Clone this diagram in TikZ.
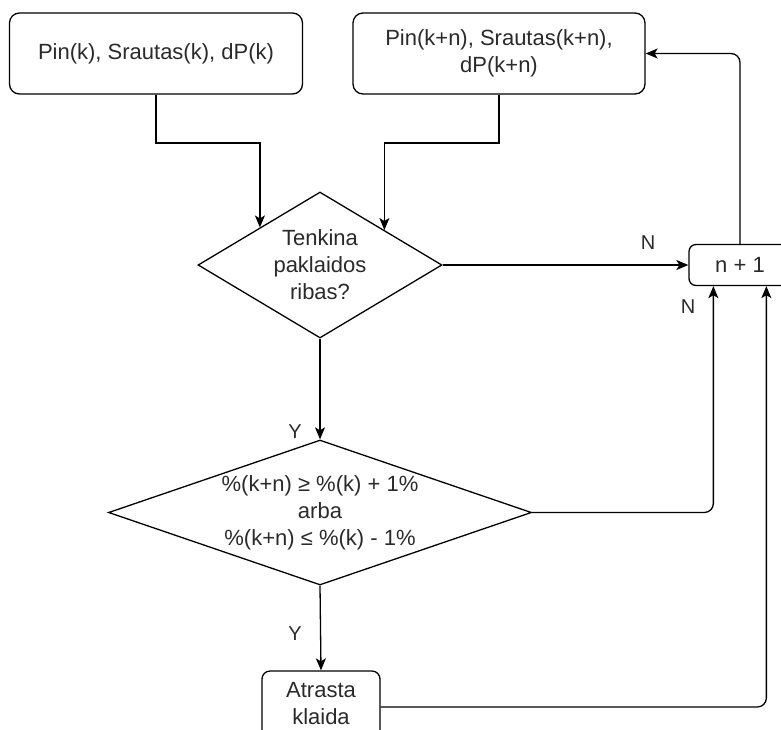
\documentclass[tikz,border=0pt]{standalone}
\usepackage{fontspec}
\setmainfont{Liberation Sans}
\usetikzlibrary{shapes.geometric,arrows.meta,calc}
\definecolor{txtc}{HTML}{2a2a2a}
\begin{document}
\begin{tikzpicture}[x=1pt,y=-1pt,
  every node/.style={text=txtc,font=\fontsize{22}{27}\selectfont,align=center},
  rbox/.style={draw,line width=1.3pt,rounded corners=10pt,inner sep=0pt},
  dia/.style={draw,diamond,line width=1.3pt,inner sep=0pt},
  lbl/.style={font=\fontsize{20}{24}\selectfont,inner sep=0pt},
  arr/.style={line width=1.3pt,-{Stealth[length=12pt,width=10pt,inset=3pt]}},
  rarr/.style={arr,rounded corners=9pt}]
\useasboundingbox (0,0) rectangle (781,729);
\node[rbox,minimum width=293pt,minimum height=81pt] (b1) at (156,53.5) {Pin(k), Srautas(k), dP(k)};
\node[rbox,minimum width=292pt,minimum height=81pt] (b2) at (499,53.5) {Pin(k+n), Srautas(k+n),\\dP(k+n)};
\node[dia,minimum width=244pt,minimum height=146pt] (d1) at (320,265) {};
\node (d1t) at (d1.center) {Tenkina\\paklaidos\\ribas?};
\node[dia,minimum width=423pt,minimum height=145pt] (d2) at (320,512.5) {};
\node (d2t) at (d2.center) {\%(k+n) ≥ \%(k) + 1\%\\arba\\\%(k+n) ≤ \%(k) - 1\%};
\node[rbox,rounded corners=7pt,minimum width=102pt,minimum height=41pt] (n1) at (740,265) {n + 1};
\node[rbox,rounded corners=8pt,minimum width=118pt,minimum height=72pt] (a1) at (321,707) {};
\node (a1t) at (321,704) {Atrasta\\klaida};
\coordinate (p1) at ($(d1.north)!0.49!(d1.west)$);
\coordinate (p2) at ($(d1.north)!0.525!(d1.east)$);
\draw[arr] (b1.south) -- (b1.south |- 0,143) -| (p1);
\draw[arr] (b2.south) -- (b2.south |- 0,143) -| (p2);
\draw[arr] (d1.east) -- (n1.west);
\draw[rarr] (n1.north) |- (b2.east);
\draw[arr] (d1.south) -- (d2.north);
\draw[rarr] (d2.east) -| ([xshift=25pt]n1.south west);
\draw[arr] (d2.south) -- (a1.north);
\draw[rarr] (a1.east) -| ([xshift=78pt]n1.south west);
\node[lbl] (l1) at (648,243) {N};
\node[lbl] (l2) at (688,307) {N};
\node[lbl] (l3) at (295,432) {Y};
\node[lbl] (l4) at (295,634) {Y};
\end{tikzpicture}
\end{document}
